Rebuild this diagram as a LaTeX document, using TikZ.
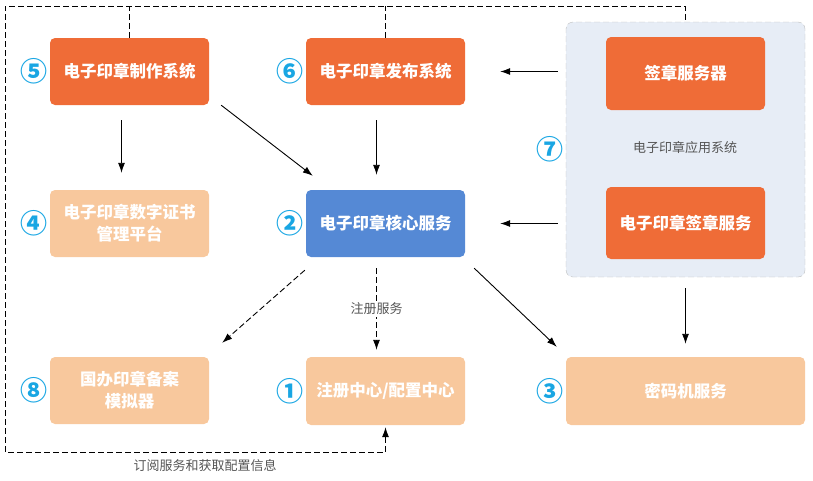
\documentclass[tikz,border=0pt]{standalone}
\usepackage{fontspec}
\setmainfont{Noto Sans CJK SC}
\usepackage{tikz}
\definecolor{sysdark}{HTML}{EF6C37}
\definecolor{syslight}{HTML}{F8C89D}
\definecolor{corebl}{HTML}{5589D5}
\definecolor{grpfill}{HTML}{E7EDF6}
\definecolor{grpline}{HTML}{BDBDBD}
\definecolor{numcyan}{HTML}{19A6E3}
\definecolor{lblgray}{HTML}{555555}
\newcommand{\numtag}[2]{%
  \node[numcyan,font=\fontsize{27}{27}\selectfont\bfseries,inner sep=0pt] (n#1) at ([xshift=-16pt]#1.west) {#2};
}
\usetikzlibrary{arrows.meta}
\tikzset{
  sysbox/.style={rounded corners=5pt,minimum width=159pt,minimum height=67pt,inner sep=0pt,
    text=white,align=center,font=\fontsize{16.5}{22}\selectfont\bfseries},
  arr/.style={line width=0.9pt,-{Latex[length=10pt,width=7pt]}},
  dasharr/.style={arr,dash pattern=on 6pt off 3pt},
  loopln/.style={line width=0.9pt,dash pattern=on 6pt off 3pt},
  lbl/.style={lblgray,font=\fontsize{13}{16}\selectfont}
}

\begin{document}
\begin{tikzpicture}[x=1pt,y=-1pt]
    \useasboundingbox (0,0) rectangle (813,480);
    \node[draw=grpline,fill=grpfill,dash pattern=on 6pt off 3pt,rounded corners=7pt,
      minimum width=239pt,minimum height=255pt] (grp) at (685.5,149.5) {};
    \node[lbl] (grplbl) at (685,148) {电子印章应用系统};
    \node[sysbox,fill=sysdark] (make) at (129.5,71.5) {电子印章制作系统};
    \node[sysbox,fill=sysdark] (pub) at (385.5,71.5) {电子印章发布系统};
    \node[sysbox,fill=sysdark,minimum height=73pt] (server) at (685.5,73.5) {签章服务器};
    \node[sysbox,fill=syslight] (cert) at (129.5,223.5) {电子印章数字证书\\管理平台};
    \node[sysbox,fill=corebl] (core) at (385.5,223.5) {电子印章核心服务};
    \node[sysbox,fill=sysdark,minimum height=72pt] (sign) at (685.5,223) {电子印章签章服务};
    \node[sysbox,fill=syslight] (sim) at (129.5,390.5) {国办印章备案\\模拟器};
    \node[sysbox,fill=syslight,minimum height=68pt] (reg) at (385.5,391) {注册中心/配置中心};
    \node[sysbox,fill=syslight,minimum width=239pt,minimum height=68pt] (crypto) at (685.5,391) {密码机服务};
    \numtag{make}{⑤}
    \numtag{pub}{⑥}
    \numtag{grp}{⑦}
    \numtag{cert}{④}
    \numtag{core}{②}
    \numtag{sim}{⑧}
    \numtag{reg}{①}
    \numtag{crypto}{③}
    \draw[arr] ([xshift=-8pt,yshift=-15pt]make.south) -- ([xshift=-8pt,yshift=17pt]cert.north);
    \draw[arr] ([xshift=12pt]make.south east) -- ([xshift=7pt,yshift=14pt]core.north west);
    \draw[arr] ([xshift=-9pt,yshift=-15pt]pub.south) -- ([xshift=-9pt,yshift=15pt]core.north);
    \draw[arr] ([xshift=-8pt]grp.west |- pub.east) -- ([xshift=35pt]pub.east);
    \draw[arr] ([xshift=-8pt]grp.west |- core.east) -- ([xshift=35pt]core.east);
    \draw[arr] ([xshift=9pt,yshift=-11pt]core.south east) -- ([xshift=-9pt,yshift=10pt]crypto.north west);
    \draw[arr] ([yshift=-11pt]grp.south) -- ([yshift=13pt]crypto.north);
    \draw[dasharr] ([xshift=-1pt,yshift=-13pt]core.south west) -- ([xshift=13pt,yshift=14pt]sim.north east);
    \draw[dasharr] ([xshift=-9pt,yshift=-11pt]core.south) -- ([xshift=-9pt,yshift=7pt]reg.north)
      node[midway,lbl,fill=white,inner sep=2pt] (regl) {注册服务};
    \coordinate (tl) at (5,6);
    \coordinate (bl) at (5,452);
    \draw[loopln,{Latex[length=10pt,width=7pt]}-] ([yshift=-2pt]reg.south) |- (bl) -- (tl) -| (grp.north);
    \draw[loopln] (make.north) -- (make.north |- tl);
    \draw[loopln] (pub.north) -- (pub.north |- tl);
    \node[lbl] (loopl) at (205,466) {订阅服务和获取配置信息};
  \end{tikzpicture}
\end{document}
